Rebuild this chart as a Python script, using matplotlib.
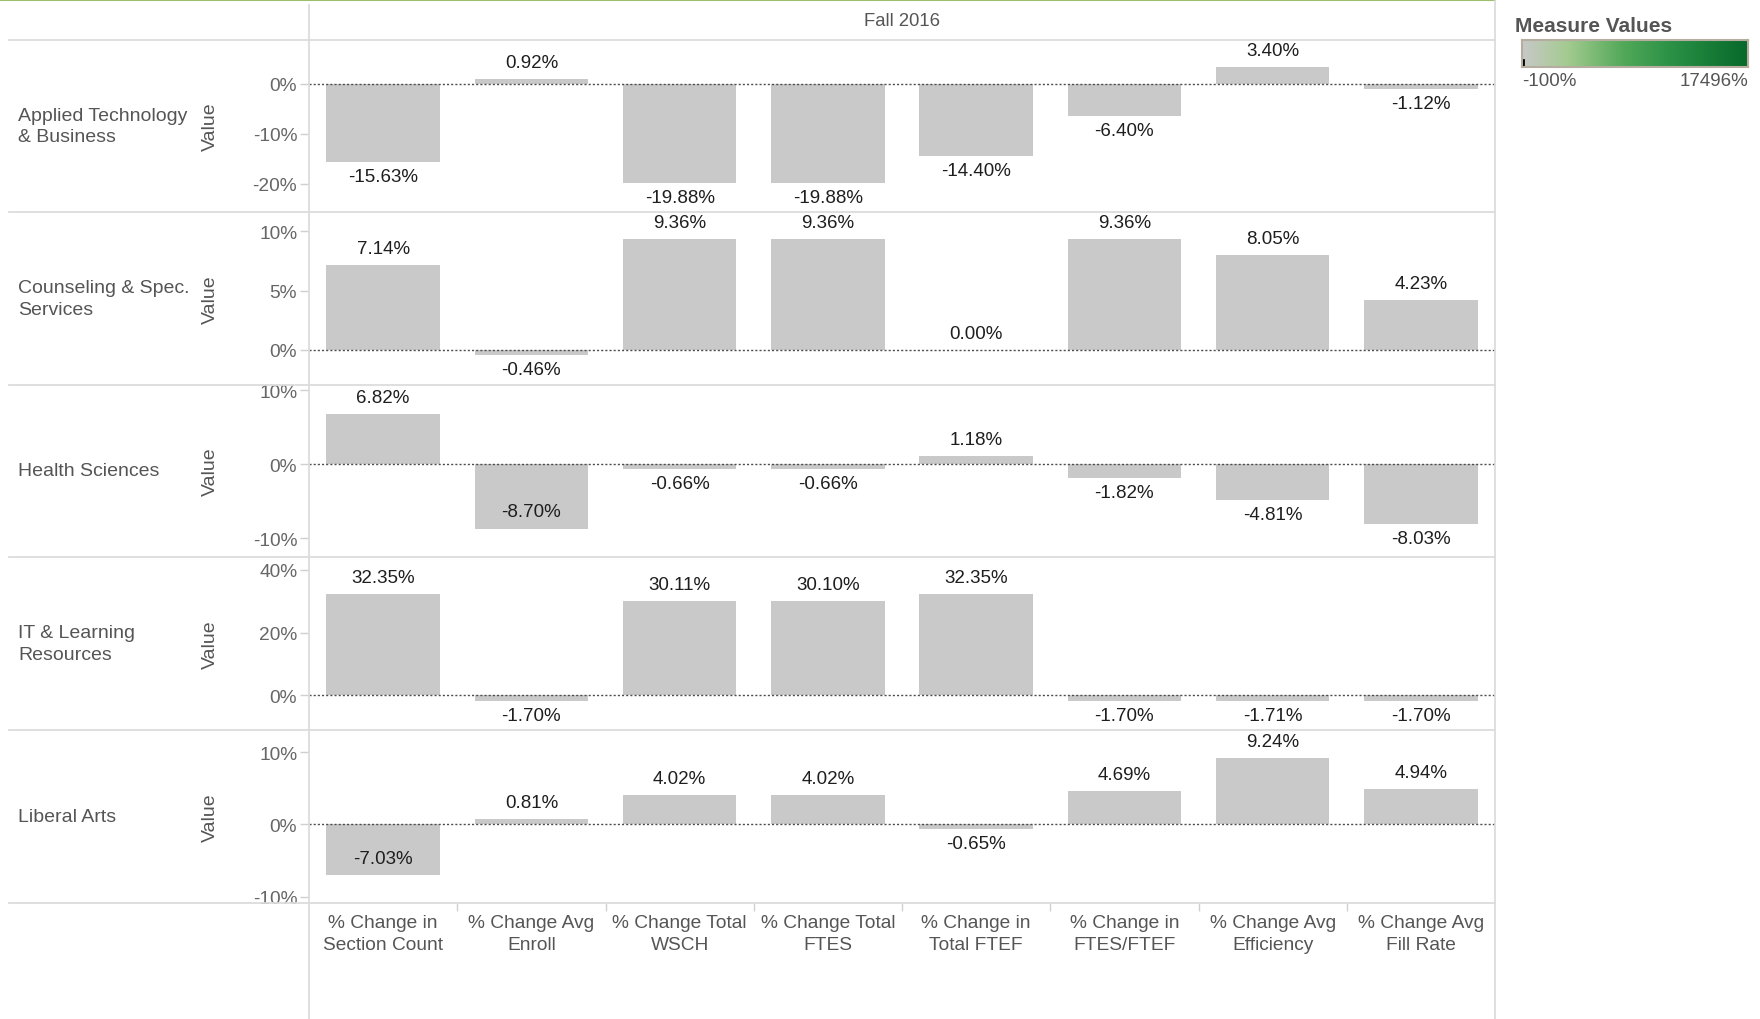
import numpy as np
import matplotlib.pyplot as plt
from matplotlib.colors import LinearSegmentedColormap
from matplotlib.lines import Line2D

plt.rcParams['font.family'] = ['Liberation Sans', 'DejaVu Sans']

# data
measures = ["% Change in\nSection Count", "% Change Avg\nEnroll", "% Change Total\nWSCH",
            "% Change Total\nFTES", "% Change in\nTotal FTEF", "% Change in\nFTES/FTEF",
            "% Change Avg\nEfficiency", "% Change Avg\nFill Rate"]
divisions = ["Applied Technology\n& Business", "Counseling & Spec.\nServices", "Health Sciences",
             "IT & Learning\nResources", "Liberal Arts"]

applied_tech = [-15.63, 0.92, -19.88, -19.88, -14.40, -6.40, 3.40, -1.12]
counseling = [7.14, -0.46, 9.36, 9.36, 0.00, 9.36, 8.05, 4.23]
health = [6.82, -8.70, -0.66, -0.66, 1.18, -1.82, -4.81, -8.03]
it_learning = [32.35, -1.70, 30.11, 30.10, 32.35, -1.70, -1.71, -1.70]
liberal_arts = [-7.03, 0.81, 4.02, 4.02, -0.65, 4.69, 9.24, 4.94]
values = [applied_tech, counseling, health, it_learning, liberal_arts]

y_ticks = [[-20, -10, 0], [0, 5, 10], [-10, 0, 10], [0, 20, 40], [-10, 0, 10]]
y_limits = [(-25.6, 8.7), (-3.0, 11.65), (-12.5, 10.7), (-11.0, 44.1), (-10.9, 13.1)]

header = "Fall 2016"
legend_min, legend_max = -100, 17496

# layout in pixels of the 1760x1020 picture
W, H = 1760, 1020
left_px, right_px = 309, 1495
row_edges = [41, 213, 386, 558, 731, 904]

def fx(px):
    return px / W

def fy(py):
    return 1 - py / H

grey_text = "#555555"
line_col = "#dcdcdc"

fig = plt.figure(figsize=(17.6, 10.2), dpi=100)

axes = []
for i, vals in enumerate(values):
    top, bot = row_edges[i], row_edges[i + 1]
    ax = fig.add_axes([fx(left_px), fy(bot), fx(right_px) - fx(left_px), (bot - top) / H])
    axes.append(ax)
    x = np.arange(len(vals))
    ax.bar(x, vals, width=0.765, color="#c9c9c9", zorder=2)
    ax.axhline(0, color="#4d4d4d", lw=1, ls=(0, (1.5, 1.5)), zorder=3)
    ymin, ymax = y_limits[i]
    ax.set_xlim(-0.5, len(vals) - 0.5)
    ax.set_ylim(ymin, ymax)
    ax.set_yticks(y_ticks[i])
    ax.set_yticklabels([f"{t}%" for t in y_ticks[i]])
    ax.tick_params(axis="y", length=6.5, width=1, color="#d0d0d0",
                   labelcolor="#666666", labelsize=13.8, pad=2)
    ax.set_xticks([])
    for s in ax.spines.values():
        s.set_visible(False)
    ax.patch.set_alpha(0)

    # value labels, put inside the bar when there is no room below it
    ppu = (bot - top) / (ymax - ymin)
    for j, v in enumerate(vals):
        if v >= 0:
            off = 16.5
        else:
            room = (v - ymin) * ppu
            off = -14.6 if room > 28.6 else 17
        ax.annotate(f"{v:.2f}%", (j, v), xytext=(0, off * 0.72), textcoords="offset points",
                    ha="center", va="center", fontsize=13.5, color="#1e1e1e", zorder=4)

    cy = (top + bot) / 2
    fig.text(fx(18), fy(cy), divisions[i], ha="left", va="center", fontsize=14,
             color=grey_text, linespacing=1.36)
    fig.text(fx(210), fy(cy), "Value", rotation=90, ha="center", va="center",
             fontsize=14, color=grey_text)

# column labels along the bottom
ax = axes[-1]
ax.set_xticks(np.arange(len(measures)))
ax.set_xticklabels(measures, linespacing=1.38)
ax.set_xticks(np.arange(0.5, len(measures) - 1, 1), minor=True)
ax.tick_params(axis="x", which="major", length=0, pad=8, labelsize=13.8, labelcolor=grey_text)
ax.tick_params(axis="x", which="minor", length=6, width=1, color="#d0d0d0")

fig.text(fx((left_px + right_px) / 2), fy(22), header, ha="center", va="center",
         fontsize=13.3, color=grey_text)

# frame lines
fig.add_artist(Line2D([0, fx(right_px)], [fy(1), fy(1)], color="#9bbf6f", lw=1.5))
for y in row_edges:
    fig.add_artist(Line2D([fx(9), fx(right_px)], [fy(y), fy(y)], color=line_col, lw=1.3))
fig.add_artist(Line2D([fx(left_px)] * 2, [fy(6), 0], color=line_col, lw=1.3))
fig.add_artist(Line2D([fx(right_px)] * 2, [fy(2), 0], color=line_col, lw=1.3))

# colour legend
cmap = LinearSegmentedColormap.from_list(
    "grey_green", [(0, "#c8c8c8"), (0.2, "#a4cb90"), (0.45, "#52a859"),
                   (0.66, "#2a9145"), (1, "#07692b")])
fig.text(fx(1515), fy(27), "Measure Values", fontweight="bold", fontsize=15,
         color=grey_text, ha="left", va="center")
cax = fig.add_axes([fx(1522), fy(68), fx(1748) - fx(1522), 27 / H])
gradient = np.linspace(legend_min, legend_max, 512).reshape(1, -1)
cax.imshow(gradient, aspect="auto", cmap=cmap, extent=[legend_min, legend_max, 0, 1])
cax.plot([0, 0], [0, 0.25], color="black", lw=2)
cax.set_xlim(legend_min, legend_max)
cax.set_ylim(0, 1)
cax.set_xticks([])
cax.set_yticks([])
for s in cax.spines.values():
    s.set_color("#b5ad9f")
    s.set_linewidth(1.5)
fig.text(fx(1522), fy(82), f"{legend_min}%", ha="left", va="center", fontsize=13.5, color=grey_text)
fig.text(fx(1748), fy(82), f"{legend_max}%", ha="right", va="center", fontsize=13.5, color=grey_text)

fig.savefig("out.png", dpi=100)
